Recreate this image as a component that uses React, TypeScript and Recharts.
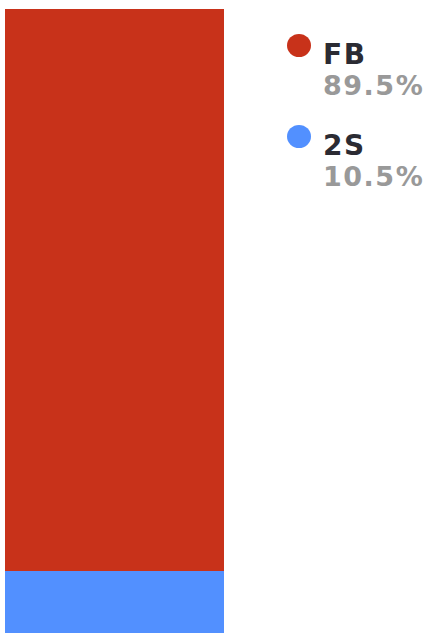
import React from 'react';
import { BarChart, Bar, XAxis, YAxis, Legend } from 'recharts';

const categories = ['Share'];
const seriesNames = ['2S', 'FB'];
const seriesValues = [10.5, 89.5];
const seriesColors = ['#5290FF', '#C8321A'];

const data = categories.map((name) => {
  const row: Record<string, string | number> = { name };
  seriesNames.forEach((s, i) => {
    row[s] = seriesValues[i];
  });
  return row;
});

// legend lists the top segment first
const legendOrder = [1, 0];

const LegendContent: React.FC = () => (
  <div style={{ fontFamily: '"DejaVu Sans", sans-serif', fontWeight: 'bold' }}>
    {legendOrder.map((i) => (
      <div key={seriesNames[i]} style={{ position: 'relative', height: 91 }}>
        <span
          style={{
            position: 'absolute',
            left: 0,
            top: 34,
            width: 24,
            height: 23,
            borderRadius: '50%',
            background: seriesColors[i],
          }}
        />
        <div
          style={{
            position: 'absolute',
            left: 36,
            top: 38,
            fontSize: 28,
            lineHeight: '33px',
            letterSpacing: 1.5,
            color: '#2B2B33',
            whiteSpace: 'nowrap',
          }}
        >
          {seriesNames[i]}
        </div>
        <div
          style={{
            position: 'absolute',
            left: 36,
            top: 69,
            fontSize: 27,
            lineHeight: '33px',
            letterSpacing: 1.5,
            color: '#999999',
            whiteSpace: 'nowrap',
          }}
        >
          {seriesValues[i]}%
        </div>
      </div>
    ))}
  </div>
);

const App: React.FC = () => {
  return (
    <div style={{ position: 'absolute', left: 0, top: 0, width: 425, height: 640 }}>
      <BarChart
        width={425}
        height={640}
        data={data}
        margin={{ top: 9, right: 63, bottom: 3, left: 5 }}
        barCategoryGap={0}
      >
        <XAxis dataKey="name" hide />
        <YAxis hide domain={[0, 100]} />
        <Legend
          layout="vertical"
          align="right"
          verticalAlign="top"
          wrapperStyle={{ top: 0, left: 287, width: 138, height: 200 }}
          content={() => <LegendContent />}
        />
        {seriesNames.map((s, i) => (
          <Bar key={s} dataKey={s} stackId="a" fill={seriesColors[i]} isAnimationActive={false} />
        ))}
      </BarChart>
    </div>
  );
};

export default App;
